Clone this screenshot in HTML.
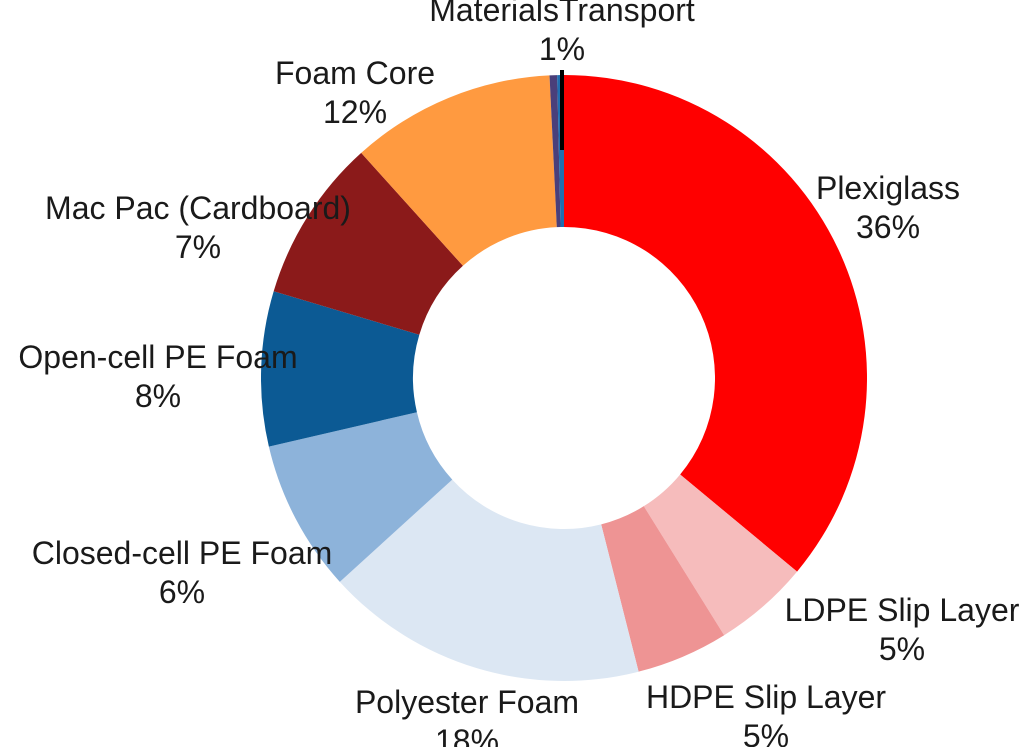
<!DOCTYPE html>
<html><head><meta charset="utf-8"><style>
body{margin:0;background:#fff;width:1024px;height:747px;overflow:hidden}
svg text{font-family:"Liberation Sans",sans-serif;font-size:32px;fill:#1a1a1a;text-anchor:middle}
</style></head><body>
<svg width="1024" height="747">
<g id="slices"></g><g id="labels"></g>
<line x1="562" y1="70" x2="562" y2="150" stroke="#000" stroke-width="4"/>
</svg>
<script>
const categories=["Plexiglass","LDPE Slip Layer","HDPE Slip Layer","Polyester Foam","Closed-cell PE Foam","Open-cell PE Foam","Mac Pac (Cardboard)","Foam Core","Materials","Transport"];
const values=[36.0,5.1,4.9,17.2,8.1,8.25,8.7,10.9,0.4,0.36];
const colors=["#ff0000","#f6bcbc","#ee9494","#dce7f3","#8db3da","#0c5a94","#8b1a1a","#ff9a40","#4a3f7a","#1f6fb0"];
const cx=564,cy=378,R=303,r=151;
const NS="http://www.w3.org/2000/svg";
const total=values.reduce((a,b)=>a+b,0);
const sg=document.getElementById('slices');
let a0=0;
function pt(a,rad){return [cx+rad*Math.sin(a),cy-rad*Math.cos(a)];}
values.forEach((v,i)=>{
  const a1=a0+v/total*2*Math.PI;
  const [x0,y0]=pt(a0,R),[x1,y1]=pt(a1,R),[x2,y2]=pt(a1,r),[x3,y3]=pt(a0,r);
  const lg=(a1-a0)>Math.PI?1:0;
  const p=document.createElementNS(NS,'path');
  p.setAttribute('d',`M${x0},${y0}A${R},${R} 0 ${lg} 1 ${x1},${y1}L${x2},${y2}A${r},${r} 0 ${lg} 0 ${x3},${y3}Z`);
  p.setAttribute('fill',colors[i]);
  
  
  sg.appendChild(p);
  a0=a1;
});
const labelPos=[[888,199],[902,621],[766,708],[467,713],[182,564],[158,368],[198,219],[355,84],[562,21]];
const lg=document.getElementById('labels');
const labelText=["Plexiglass","LDPE Slip Layer","HDPE Slip Layer","Polyester Foam","Closed-cell PE Foam","Open-cell PE Foam","Mac Pac (Cardboard)","Foam Core","MaterialsTransport"];
const labelPct=["36%","5%","5%","18%","6%","8%","7%","12%","1%"];
labelPos.forEach((p,i)=>{
  const t=document.createElementNS(NS,'text');
  t.setAttribute('x',p[0]);t.setAttribute('y',p[1]);
  t.textContent=labelText[i];
  
  
  lg.appendChild(t);
  const t2=document.createElementNS(NS,'text');
  t2.setAttribute('x',p[0]);t2.setAttribute('y',p[1]+39);
  t2.textContent=labelPct[i];
  
  
  lg.appendChild(t2);
});
</script>
</body></html>
